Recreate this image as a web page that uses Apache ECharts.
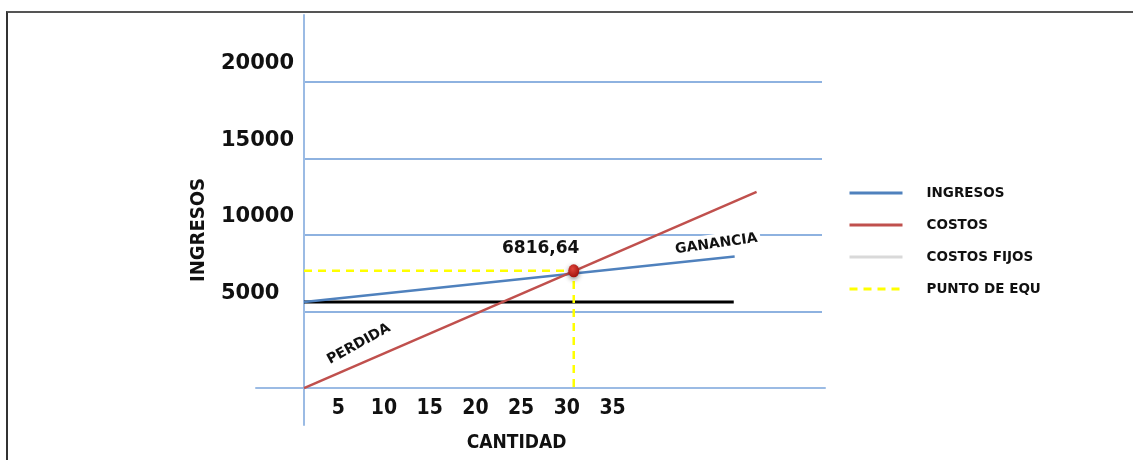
<!DOCTYPE html>
<html>
<head>
<meta charset="utf-8">
<script src="https://cdn.jsdelivr.net/npm/echarts@6/dist/echarts.min.js"></script>
<style>
  html, body { margin: 0; padding: 0; background: #ffffff; }
  #wrap { position: relative; width: 1133px; height: 460px; overflow: hidden; }
  #chart { position: absolute; left: 0; top: 0; width: 1133px; height: 460px; }
  #frame {
    position: absolute; left: 6px; top: 11px; width: 1140px; height: 470px;
    border-top: 2px solid #555555; border-left: 2px solid #333333;
    pointer-events: none;
  }
</style>
</head>
<body>
<div id="wrap">
  <div id="chart"></div>
  <div id="frame"></div>
</div>
<script>
// Tick labels
const quantityTicks = [5, 10, 15, 20, 25, 30, 35];
const valueTicks = [5000, 10000, 15000, 20000];

// Series values: [cantidad, valor]
const ingresos = [[0, 5000], [47.1, 7650]];
const costos = [[0, 0], [49.5, 11400]];
const costosFijos = [[0, 5000], [47, 5000]];
const equilibrioCantidad = 29.5;
const equilibrioValor = 6816.64;
const puntoEquilibrio = [[0, equilibrioValor], [equilibrioCantidad, equilibrioValor], [equilibrioCantidad, 0]];

const BLUE = '#4f81bd';
const RED = '#c0504d';
const AXIS_BLUE = '#9bbbe4';
const GRID_BLUE = '#8eb2e0';
const TXT = '#111111';

const chart = echarts.init(document.getElementById('chart'), null, { renderer: 'canvas' });

const option = {
  animation: false,
  backgroundColor: '#ffffff',
  grid: [
    // gridlines and tick labels
    { left: 304, right: 311, top: 82, bottom: 72, containLabel: false, outerBoundsMode: 'none' },
    // axis cross and plotted lines
    { left: 256, right: 308, top: 15, bottom: 35, containLabel: false, outerBoundsMode: 'none' }
  ],
  xAxis: [
    {
      gridIndex: 0, type: 'value', min: 0, max: 56.65, interval: 5,
      axisLine: { show: false }, axisTick: { show: false }, splitLine: { show: false },
      axisLabel: {
        margin: 10,
        fontFamily: 'DejaVu Sans Condensed', fontWeight: 'bold', fontSize: 21, color: TXT,
        padding: [0, 23, 0, 0],
        formatter: v => quantityTicks.includes(v) ? String(v) : ''
      },
      name: 'CANTIDAD', nameLocation: 'middle', nameGap: 46,
      nameTextStyle: {
        fontFamily: 'Liberation Sans Narrow, DejaVu Sans Condensed', fontWeight: 'bold',
        fontSize: 19, color: TXT, padding: [0, 93, 0, 0]
      }
    },
    {
      gridIndex: 1, type: 'value', min: -5.25, max: 56.98,
      axisLine: { show: true, onZero: true, lineStyle: { color: AXIS_BLUE, width: 2 } },
      axisTick: { show: false }, axisLabel: { show: false }, splitLine: { show: false }
    }
  ],
  yAxis: [
    {
      gridIndex: 0, type: 'value', min: 0, max: 20000, interval: 5000,
      axisLine: { show: false }, axisTick: { show: false },
      splitLine: { show: true, lineStyle: { color: GRID_BLUE, width: 2 } },
      axisLabel: {
        align: 'left', margin: 83, verticalAlign: 'bottom', lineHeight: 36,
        fontFamily: 'DejaVu Sans', fontWeight: 'bold', fontSize: 21, color: TXT,
        formatter: v => valueTicks.includes(v) ? String(v) : ''
      },
      name: 'INGRESOS', nameLocation: 'middle', nameRotate: 90, nameGap: 95,
      nameTextStyle: {
        fontFamily: 'DejaVu Sans Condensed', fontWeight: 'bold', fontSize: 20, color: TXT,
        padding: [0, 0, 0, 10]
      }
    },
    {
      gridIndex: 1, type: 'value', min: -2150, max: 21690,
      axisLine: { show: true, onZero: true, lineStyle: { color: AXIS_BLUE, width: 2 } },
      axisTick: { show: false }, axisLabel: { show: false }, splitLine: { show: false }
    }
  ],
  legend: {
    orient: 'vertical', left: 843, top: 181,
    itemWidth: 53, itemHeight: 14, itemGap: 18,
    itemStyle: { opacity: 0 },
    lineStyle: { width: 3 },
    textStyle: {
      fontFamily: 'DejaVu Sans', fontWeight: 'bold', fontSize: 13.5, color: TXT,
      padding: [0, 0, 0, 19]
    },
    data: [
      { name: 'INGRESOS' },
      { name: 'COSTOS' },
      { name: 'COSTOS FIJOS', lineStyle: { color: '#d9d9d9', width: 3 } },
      { name: 'PUNTO DE EQU' }
    ]
  },
  series: [
    {
      name: 'COSTOS FIJOS', type: 'line', xAxisIndex: 1, yAxisIndex: 1,
      data: costosFijos, symbol: 'none',
      lineStyle: { color: '#000000', width: 3 }, itemStyle: { color: '#d9d9d9' }, z: 3
    },
    {
      name: 'PUNTO DE EQU', type: 'line', xAxisIndex: 1, yAxisIndex: 1,
      data: puntoEquilibrio, symbol: 'none',
      lineStyle: { color: '#ffff00', width: 2.5, type: [8, 6] }, itemStyle: { color: '#ffff00' }, z: 3
    },
    {
      name: 'INGRESOS', type: 'line', xAxisIndex: 1, yAxisIndex: 1,
      data: ingresos, symbol: 'none',
      lineStyle: { color: BLUE, width: 2.5 }, itemStyle: { color: BLUE }, z: 4
    },
    {
      name: 'COSTOS', type: 'line', xAxisIndex: 1, yAxisIndex: 1,
      data: costos, symbol: 'none',
      lineStyle: { color: RED, width: 2.5 }, itemStyle: { color: RED }, z: 4
    },
    {
      name: 'equilibrio', type: 'scatter', xAxisIndex: 1, yAxisIndex: 1,
      data: [[equilibrioCantidad, equilibrioValor]],
      symbol: 'circle', symbolSize: [11, 13],
      itemStyle: {
        opacity: 1,
        color: new echarts.graphic.RadialGradient(0.4, 0.35, 0.7, [
          { offset: 0, color: '#e0443a' }, { offset: 1, color: '#9e100b' }
        ]),
        shadowBlur: 5, shadowColor: 'rgba(0,0,0,0.45)', shadowOffsetY: 2
      },
      label: {
        show: true, position: 'inside', offset: [-33, -22],
        formatter: () => equilibrioValor.toFixed(2).replace('.', ','),
        fontFamily: 'DejaVu Sans', fontWeight: 'bold', fontSize: 17, color: TXT,
        textBorderWidth: 0
      },
      z: 6
    },
    {
      name: 'notas', type: 'scatter', xAxisIndex: 1, yAxisIndex: 1,
      symbolSize: 1, itemStyle: { color: 'rgba(0,0,0,0)', opacity: 1 }, silent: true,
      data: [
        { value: [45.1, 8380], label: { formatter: 'GANANCIA', rotate: 8, backgroundColor: '#ffffff', padding: [3, 3] } },
        { value: [6.0, 2560], label: { formatter: 'PERDIDA', rotate: 29 } }
      ],
      label: {
        show: true, position: 'inside',
        fontFamily: 'DejaVu Sans', fontWeight: 'bold', fontSize: 14, color: TXT,
        textBorderWidth: 0
      },
      z: 5
    }
  ]
};

chart.setOption(option);
</script>
</body>
</html>
